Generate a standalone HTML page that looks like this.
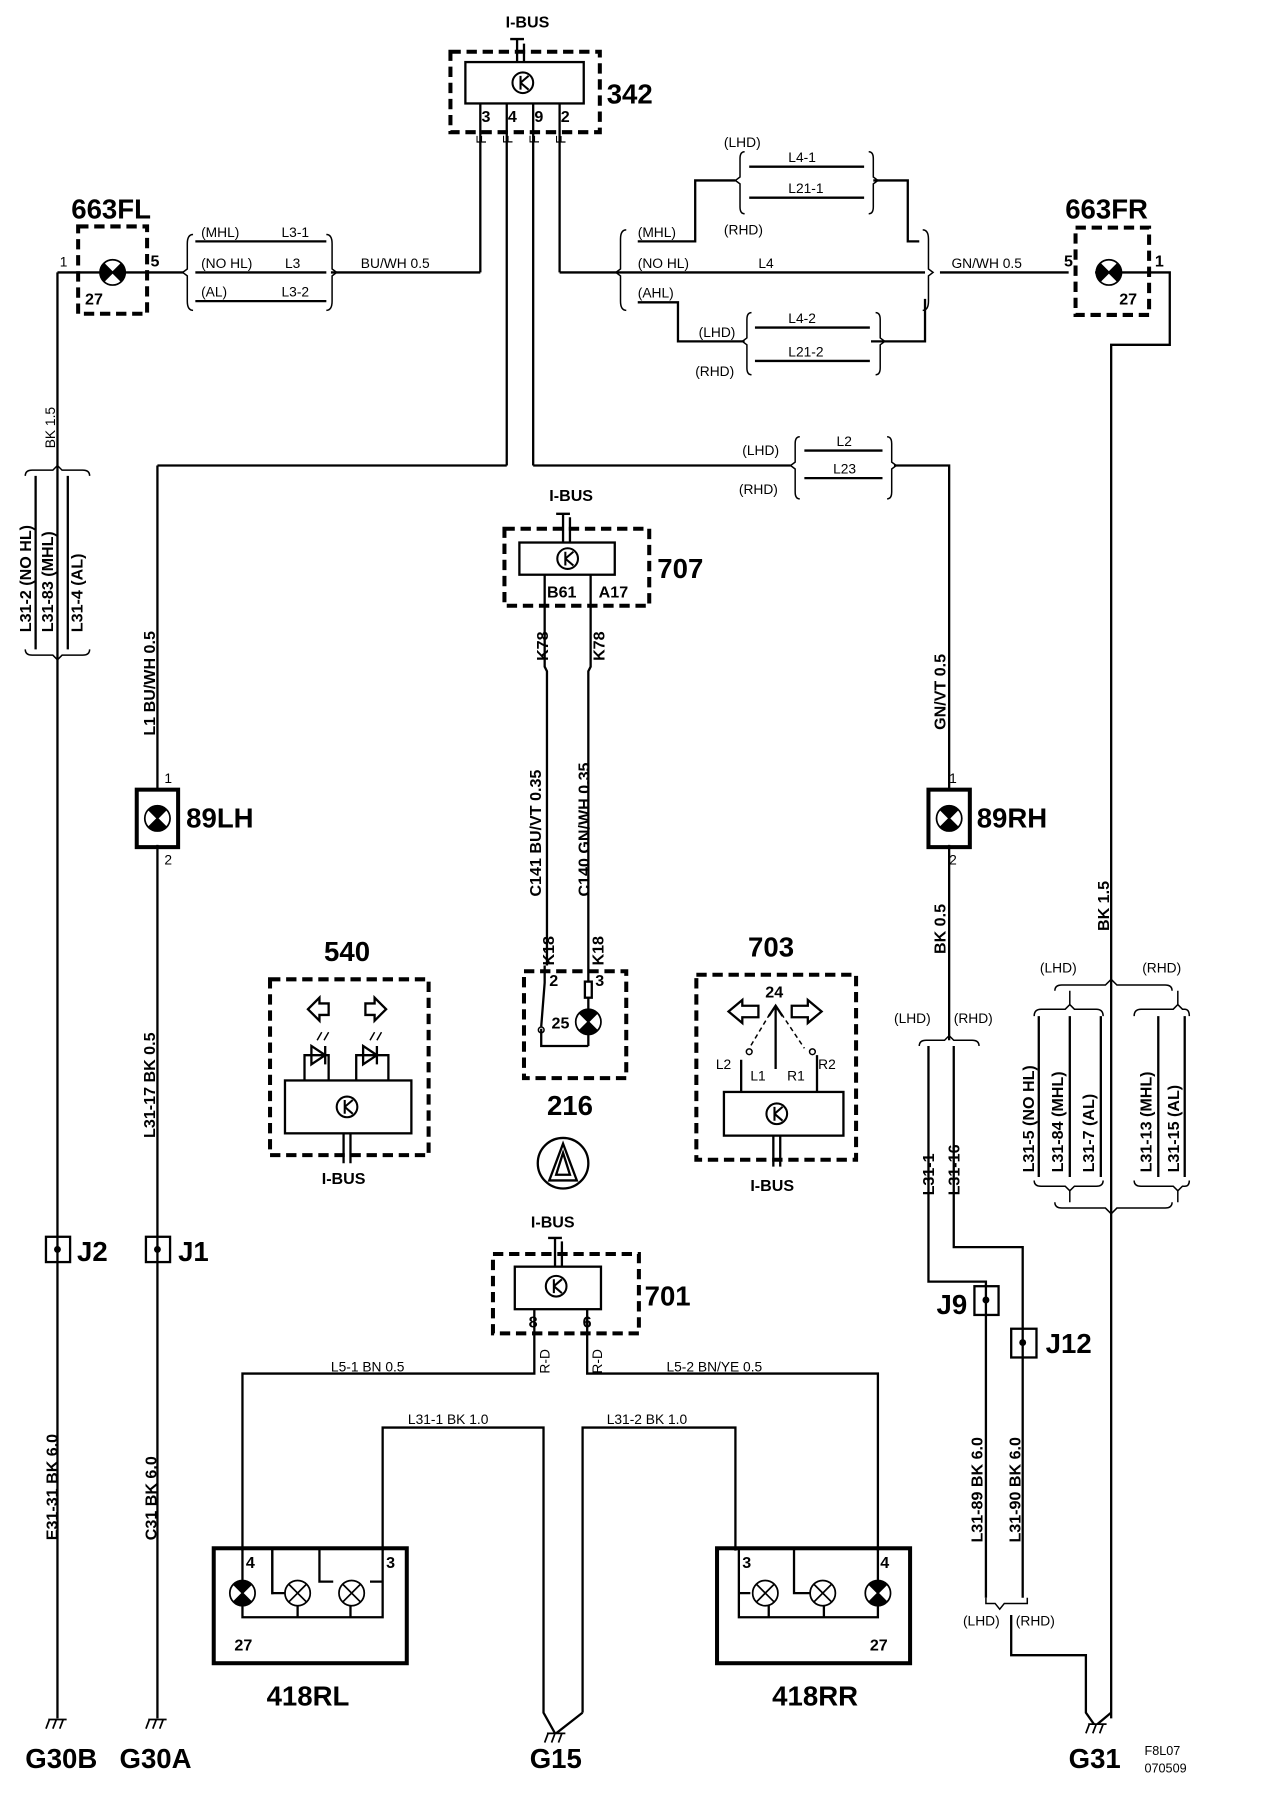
<!DOCTYPE html>
<html><head><meta charset="utf-8"><style>
html,body{margin:0;padding:0;background:#fff}
svg{display:block}
text{font-family:"Liberation Sans",sans-serif;fill:#000}
.s{font-size:12px}
.m{font-size:14px;font-weight:bold}
.b{font-size:24px;font-weight:bold}
.w{stroke:#000;stroke-width:2;fill:none}
.d{stroke:#000;stroke-width:3.5;fill:none;stroke-dasharray:9 5}
.k{stroke:#000;stroke-width:3.5;fill:none}
.t{stroke:#000;stroke-width:1.3;fill:none}
</style></head><body>
<svg width="1264" height="1800" viewBox="0 0 1100 1566" preserveAspectRatio="none" xmlns="http://www.w3.org/2000/svg">
<defs>
<g id="lamp"><circle r="11" fill="#fff" stroke="#000" stroke-width="1.5"/><path d="M-8,-8 L0,0 L-8,8 A11,11 0 0 1 -8,-8Z M8,-8 L0,0 L8,8 A11,11 0 0 0 8,-8Z" fill="#000"/><path d="M-8,-8L8,8M8,-8L-8,8" stroke="#000" stroke-width="1.5"/></g>
<g id="lampv"><circle r="11" fill="#fff" stroke="#000" stroke-width="1.5"/><path d="M-8,-8 L0,0 L8,-8 A11,11 0 0 0 -8,-8Z M-8,8 L0,0 L8,8 A11,11 0 0 1 -8,8Z" fill="#000"/><path d="M-8,-8L8,8M8,-8L-8,8" stroke="#000" stroke-width="1.5"/></g>
<g id="bulb"><circle r="11" fill="#fff" stroke="#000" stroke-width="1.5"/><path d="M-8,-8L8,8M8,-8L-8,8" stroke="#000" stroke-width="1.5"/></g>
<g id="gnd"><path d="M-8,0H8M-7,0L-10,8M-1,0L-4,8M5,0L2,8" stroke="#000" stroke-width="1.5" fill="none"/></g>
<g id="ecu"><circle r="9" fill="none" stroke="#000" stroke-width="1.8"/><path d="M-2,-6V6M-2,0L5,-6M-2,0L5,6" stroke="#000" stroke-width="1.8" fill="none"/></g>
</defs>

<!-- 342 -->
<text x="440" y="24" class="m">I-BUS</text>
<path class="w" d="M444,34H456M450,34V54M456,38V54"/>
<rect x="392" y="45" width="130" height="70" class="d"/>
<rect x="405" y="54" width="103" height="36" class="w" fill="#fff"/>
<use href="#ecu" x="455" y="72"/>
<text x="528" y="90" class="b">342</text>
<path class="w" d="M418,90V237M441,90V405M464,90V405M487,90V237"/>
<text x="419" y="106" class="m">3</text><text x="442" y="106" class="m">4</text><text x="465" y="106" class="m">9</text><text x="488" y="106" class="m">2</text>
<text x="423" y="125" class="s" transform="rotate(-90 423 125)">F</text><text x="446" y="125" class="s" transform="rotate(-90 446 125)">F</text><text x="469" y="125" class="s" transform="rotate(-90 469 125)">F</text><text x="492" y="125" class="s" transform="rotate(-90 492 125)">F</text>

<!-- 663FL -->
<text x="62" y="190" class="b">663FL</text>
<rect x="68" y="197" width="60" height="76" class="d"/>
<use href="#lamp" x="98" y="237"/>
<text x="52" y="232" class="s">1</text><text x="131" y="232" class="m">5</text><text x="74" y="265" class="m">27</text>
<path class="w" d="M50,237H87M109,237H160M288,237H418"/>
<path class="t" d="M168,204Q163,204 163,212V234L159,237L163,240V262Q163,270 168,270M284,204Q289,204 289,212V234L293,237L289,240V262Q289,270 284,270"/>
<path class="w" d="M170,210H284M170,237H284M170,262H284"/>
<text x="175" y="206" class="s">(MHL)</text><text x="245" y="206" class="s">L3-1</text>
<text x="175" y="233" class="s">(NO HL)</text><text x="248" y="233" class="s">L3</text>
<text x="175" y="258" class="s">(AL)</text><text x="245" y="258" class="s">L3-2</text>
<text x="314" y="233" class="s">BU/WH  0.5</text>

<!-- Left wires -->
<path class="w" d="M50,237V1495M137,405H441M137,405V688M137,735V1495"/>
<text x="48" y="390" class="s" transform="rotate(-90 48 390)">BK  1.5</text>
<path class="t" d="M22,414Q22,409 28,409H46L50,405L54,409H72Q78,409 78,414M22,565Q22,570 28,570H46L50,574L54,570H72Q78,570 78,565"/>
<path class="w" d="M31,414V565M59,414V565"/>
<text x="27" y="550" class="m" transform="rotate(-90 27 550)">L31-2  (NO HL)</text>
<text x="46" y="550" class="m" transform="rotate(-90 46 550)">L31-83  (MHL)</text>
<text x="72" y="550" class="m" transform="rotate(-90 72 550)">L31-4  (AL)</text>
<text x="135" y="640" class="m" transform="rotate(-90 135 640)">L1  BU/WH  0.5</text>
<text x="135" y="990" class="m" transform="rotate(-90 135 990)">L31-17  BK  0.5</text>
<text x="50" y="1340" class="m" transform="rotate(-90 50 1340)">E31-31  BK  6.0</text>
<text x="136" y="1340" class="m" transform="rotate(-90 136 1340)">C31  BK  6.0</text>

<!-- 89LH -->
<rect x="119" y="687" width="36" height="50" class="k" fill="#fff"/>
<use href="#lampv" x="137" y="712"/>
<text x="143" y="681" class="s">1</text><text x="143" y="752" class="s">2</text>
<text x="162" y="720" class="b">89LH</text>

<!-- J1 J2 -->
<rect x="40" y="1076" width="21" height="22" class="w" fill="#fff"/><circle cx="50" cy="1087" r="3"/>
<text x="67" y="1097" class="b">J2</text>
<rect x="127" y="1076" width="21" height="22" class="w" fill="#fff"/><circle cx="137" cy="1087" r="3"/>
<text x="155" y="1097" class="b">J1</text>
<use href="#gnd" x="50" y="1496"/><use href="#gnd" x="137" y="1496"/>
<text x="22" y="1538" class="b">G30B</text><text x="104" y="1538" class="b">G30A</text>

<!-- Right of 342 -->
<path class="w" d="M487,237H805M818,237H930M953,237H1018V300H967V1495"/>
<path class="t" d="M545,200Q540,200 540,208V234L536,237L540,240V262Q540,270 545,270M803,200Q808,200 808,208V234L812,237L808,240V262Q808,270 803,270"/>
<path class="w" d="M555,210H605V157H640M760,157H790V210H800M555,263H590V297H648M758,297H805V260"/>
<text x="555" y="206" class="s">(MHL)</text><text x="555" y="233" class="s">(NO HL)</text><text x="660" y="233" class="s">L4</text><text x="555" y="259" class="s">(AHL)</text>
<text x="630" y="128" class="s">(LHD)</text><text x="630" y="204" class="s">(RHD)</text>
<path class="t" d="M648,132Q644,132 644,138V154L640,157L644,160V180Q644,186 648,186M756,132Q760,132 760,138V154L764,157L760,160V180Q760,186 756,186"/>
<path class="w" d="M652,145H752M652,172H752"/>
<text x="686" y="141" class="s">L4-1</text><text x="686" y="168" class="s">L21-1</text>
<text x="608" y="293" class="s">(LHD)</text><text x="605" y="327" class="s">(RHD)</text>
<path class="t" d="M654,272Q650,272 650,278V294L646,297L650,300V320Q650,326 654,326M762,272Q766,272 766,278V294L770,297L766,300V320Q766,326 762,326"/>
<path class="w" d="M657,285H757M657,314H757"/>
<text x="686" y="281" class="s">L4-2</text><text x="686" y="310" class="s">L21-2</text>
<text x="828" y="233" class="s">GN/WH  0.5</text>

<!-- 663FR -->
<text x="927" y="190" class="b">663FR</text>
<rect x="936" y="198" width="64" height="76" class="d"/>
<use href="#lamp" x="965" y="237"/>
<text x="926" y="232" class="m">5</text><text x="1005" y="232" class="m">1</text><text x="974" y="265" class="m">27</text>

<!-- L2/L23 -->
<path class="w" d="M464,405H688M778,405H826V688M826,735V905"/>
<text x="646" y="396" class="s">(LHD)</text><text x="643" y="430" class="s">(RHD)</text>
<path class="t" d="M696,380Q692,380 692,386V402L688,405L692,408V428Q692,434 696,434M772,380Q776,380 776,386V402L780,405L776,408V428Q776,434 772,434"/>
<path class="w" d="M700,392H768M700,416H768"/>
<text x="728" y="388" class="s">L2</text><text x="725" y="412" class="s">L23</text>
<text x="823" y="635" class="m" transform="rotate(-90 823 635)">GN/VT  0.5</text>
<text x="823" y="830" class="m" transform="rotate(-90 823 830)">BK  0.5</text>

<!-- 89RH -->
<rect x="808" y="687" width="36" height="50" class="k" fill="#fff"/>
<use href="#lampv" x="826" y="712"/>
<text x="826" y="681" class="s">1</text><text x="826" y="752" class="s">2</text>
<text x="850" y="720" class="b">89RH</text>

<!-- right low -->
<text x="778" y="890" class="s">(LHD)</text><text x="830" y="890" class="s">(RHD)</text>
<path class="t" d="M800,910Q800,905 806,905H822L826,901L830,905H846Q852,905 852,910"/>
<path class="w" d="M808,910V1115H858V1390M830,910V1085H890V1390"/>
<text x="813" y="1040" class="m" transform="rotate(-90 813 1040)">L31-1</text>
<text x="835" y="1040" class="m" transform="rotate(-90 835 1040)">L31-16</text>
<rect x="848" y="1119" width="21" height="25" class="w" fill="#fff"/><circle cx="858" cy="1131" r="3"/>
<text x="815" y="1143" class="b">J9</text>
<rect x="880" y="1156" width="22" height="25" class="w" fill="#fff"/><circle cx="890" cy="1168" r="3"/>
<text x="910" y="1177" class="b">J12</text>
<text x="855" y="1342" class="m" transform="rotate(-90 855 1342)">L31-89  BK  6.0</text>
<text x="888" y="1342" class="m" transform="rotate(-90 888 1342)">L31-90  BK  6.0</text>
<path class="t" d="M858,1390V1395H866L870,1400L874,1395H894V1390"/>
<text x="838" y="1414" class="s">(LHD)</text><text x="884" y="1414" class="s">(RHD)</text>
<path class="w" d="M880,1405V1440H945V1490L952,1500M967,1490L955,1500"/>
<use href="#gnd" x="955" y="1500"/>
<text x="930" y="1538" class="b">G31</text>
<text x="996" y="1527" class="s" style="font-size:11px">F8L07</text>
<text x="996" y="1542" class="s" style="font-size:11px">070509</text>

<!-- BK1.5 right & bracket -->
<text x="965" y="810" class="m" transform="rotate(-90 965 810)">BK  1.5</text>
<text x="905" y="846" class="s">(LHD)</text><text x="994" y="846" class="s">(RHD)</text>
<path class="t" d="M918,862Q918,857 924,857H962L967,852L972,857H1014Q1020,857 1020,862"/>
<path class="t" d="M931,862V874M1025,862V874M931,1036V1046M1025,1036V1046"/>
<path class="t" d="M900,884Q900,878 906,878H927L931,874L935,878H954Q960,878 960,884M987,884Q987,878 993,878H1021L1025,874L1029,878H1031Q1035,878 1035,884"/>
<path class="t" d="M900,1027Q900,1032 906,1032H927L931,1036L935,1032H954Q960,1032 960,1027M987,1027Q987,1032 993,1032H1021L1025,1036L1029,1032H1031Q1035,1032 1035,1027"/>
<path class="t" d="M918,1046Q918,1051 924,1051H962L967,1056L972,1051H1014Q1020,1051 1020,1046"/>
<path class="w" d="M904,884V1024M931,884V1024M958,884V1024M1008,884V1024M1031,884V1024"/>
<text x="900" y="1020" class="m" transform="rotate(-90 900 1020)">L31-5  (NO HL)</text>
<text x="925" y="1020" class="m" transform="rotate(-90 925 1020)">L31-84  (MHL)</text>
<text x="952" y="1020" class="m" transform="rotate(-90 952 1020)">L31-7  (AL)</text>
<text x="1002" y="1020" class="m" transform="rotate(-90 1002 1020)">L31-13  (MHL)</text>
<text x="1026" y="1020" class="m" transform="rotate(-90 1026 1020)">L31-15  (AL)</text>

<!-- 707 -->
<text x="478" y="436" class="m">I-BUS</text>
<path class="w" d="M484,447H496M490,447V472M496,450V472"/>
<rect x="439" y="460" width="126" height="67" class="d"/>
<rect x="452" y="472" width="83" height="28" class="w" fill="#fff"/>
<use href="#ecu" x="494" y="486"/>
<text x="572" y="503" class="b">707</text>
<path class="w" d="M474,500V527M514,500V527M474,527V580L476,584V840M514,527V580L512,584V840"/>
<text x="476" y="520" class="m">B61</text><text x="521" y="520" class="m">A17</text>
<text x="477" y="575" class="m" transform="rotate(-90 477 575)">K78</text>
<text x="526" y="575" class="m" transform="rotate(-90 526 575)">K78</text>
<text x="471" y="780" class="m" transform="rotate(-90 471 780)">C141  BU/VT  0.35</text>
<text x="513" y="780" class="m" transform="rotate(-90 513 780)">C140  GN/WH  0.35</text>

<!-- 216 -->
<text x="482" y="840" class="m" transform="rotate(-90 482 840)">K18</text>
<text x="525" y="840" class="m" transform="rotate(-90 525 840)">K18</text>
<rect x="456" y="845" width="89" height="93" class="d"/>
<text x="478" y="858" class="m">2</text><text x="518" y="858" class="m">3</text>
<path class="w" d="M474,840V855L471,893M471,895V910H512M512,840V854M512,868V880M512,898V910"/>
<rect x="509" y="854" width="6" height="14" class="w"/>
<circle cx="471" cy="896" r="2.5" class="t"/>
<use href="#lampv" x="512" y="889"/>
<text x="480" y="895" class="m">25</text>
<text x="476" y="970" class="b">216</text>

<!-- 540 -->
<text x="282" y="836" class="b">540</text>
<rect x="235" y="852" width="138" height="153" class="d"/>
<path class="w" d="M268,878L278,868V873H286V883H278V888Z M336,878L326,868V873H318V883H326V888Z"/>
<path class="w" d="M265,940V918H286V940M310,940V918H338V940M271,910L283,918L271,926Z M316,910L328,918L316,926Z M283,910V926M328,910V926"/>
<path class="t" d="M276,905L280,898M282,905L286,898M322,905L326,898M328,905L332,898"/>
<rect x="248" y="940" width="110" height="46" class="w" fill="#fff"/>
<use href="#ecu" x="302" y="963"/>
<path class="w" d="M299,986V1012M305,986V1012"/>
<text x="280" y="1030" class="m">I-BUS</text>

<!-- hazard -->
<circle cx="490" cy="1012" r="22" class="w"/>
<path class="w" d="M490,995L478,1027H502Z M490,1003L484,1022H496Z"/>

<!-- 703 -->
<text x="651" y="832" class="b">703</text>
<rect x="606" y="848" width="139" height="161" class="d"/>
<text x="666" y="868" class="m">24</text>
<path class="w" d="M634,880L646,870V875H660V885H646V890Z M715,880L703,870V875H689V885H703V890Z"/>
<path class="w" d="M675,875V930M669,884L675,875L681,884"/>
<path class="t" d="M670,882L652,912M680,882L700,912" stroke-dasharray="4 3"/>
<circle cx="652" cy="915" r="2.5" class="t"/><circle cx="707" cy="915" r="2.5" class="t"/>
<path class="w" d="M645,950V922M711,950V918"/>
<text x="623" y="930" class="s">L2</text><text x="653" y="940" class="s">L1</text><text x="685" y="940" class="s">R1</text><text x="712" y="930" class="s">R2</text>
<rect x="630" y="950" width="104" height="38" class="w" fill="#fff"/>
<use href="#ecu" x="676" y="969"/>
<path class="w" d="M673,988V1015M679,988V1015"/>
<text x="653" y="1036" class="m">I-BUS</text>

<!-- 701 -->
<text x="462" y="1068" class="m">I-BUS</text>
<path class="w" d="M477,1077H489M483,1077V1102M489,1080V1102"/>
<rect x="429" y="1091" width="127" height="69" class="d"/>
<rect x="448" y="1102" width="75" height="37" class="w" fill="#fff"/>
<use href="#ecu" x="484" y="1119"/>
<text x="561" y="1136" class="b">701</text>
<text x="460" y="1155" class="m">8</text><text x="507" y="1155" class="m">6</text>
<path class="w" d="M465,1139V1195H211V1349M511,1139V1195H764V1349"/>
<text x="478" y="1195" class="s" transform="rotate(-90 478 1195)">R-D</text>
<text x="524" y="1195" class="s" transform="rotate(-90 524 1195)">R-D</text>
<text x="288" y="1193" class="s">L5-1   BN    0.5</text>
<text x="580" y="1193" class="s">L5-2   BN/YE   0.5</text>
<path class="w" d="M333,1349V1242H473V1490L483,1508M507,1490V1242H640V1349M507,1490L484,1508"/>
<text x="355" y="1239" class="s">L31-1  BK   1.0</text>
<text x="528" y="1239" class="s">L31-2   BK    1.0</text>
<use href="#gnd" x="484" y="1508"/>
<text x="461" y="1538" class="b">G15</text>

<!-- 418RL -->
<rect x="186" y="1347" width="168" height="100" class="k"/>
<path class="w" d="M211,1375V1407H333V1375M211,1347V1375M333,1347V1375M278,1347V1376H290M333,1376H322M237,1347V1387M259,1386V1407M305,1387V1407"/>
<use href="#lampv" x="211" y="1386"/><use href="#bulb" x="259" y="1386"/><use href="#bulb" x="306" y="1386"/>
<path class="w" d="M237,1347V1386H248"/>
<text x="214" y="1364" class="m">4</text><text x="336" y="1364" class="m">3</text><text x="204" y="1436" class="m">27</text>
<text x="232" y="1484" class="b">418RL</text>

<!-- 418RR -->
<rect x="624" y="1347" width="168" height="100" class="k"/>
<path class="w" d="M643,1347V1407H764V1347M643,1386H653M691,1347V1386H705M669,1386V1407M717,1386V1407"/>
<use href="#bulb" x="666" y="1386"/><use href="#bulb" x="716" y="1386"/><use href="#lampv" x="764" y="1386"/>
<text x="646" y="1364" class="m">3</text><text x="766" y="1364" class="m">4</text><text x="757" y="1436" class="m">27</text>
<text x="672" y="1484" class="b">418RR</text>
</svg>
</body></html>
